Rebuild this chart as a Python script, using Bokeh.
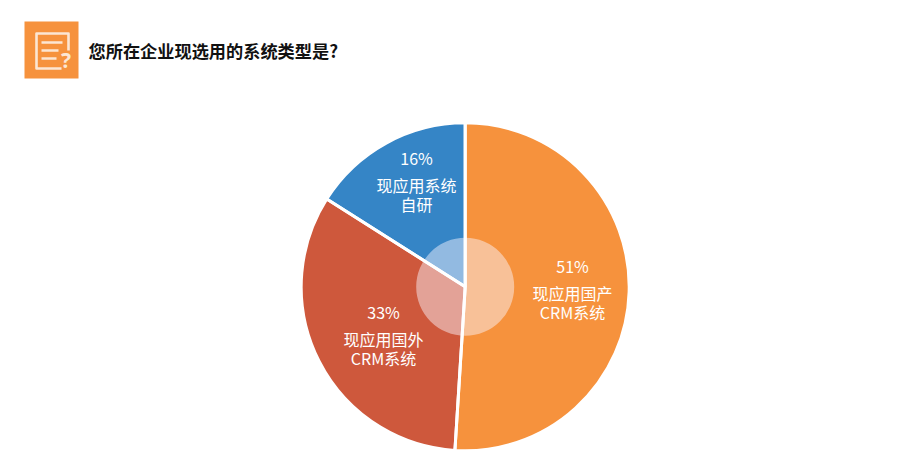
import math
from bokeh.plotting import figure
from bokeh.embed import file_html
from bokeh.resources import INLINE
from bokeh.core.properties import value

title = "您所在企业现选用的系统类型是?"
shares = [51, 33, 16]
colors = ["#F6923D", "#CE583C", "#3585C6"]
pct_labels = ["51%", "33%", "16%"]
name_lines = [["现应用国产", "CRM系统"], ["现应用国外", "CRM系统"], ["现应用系统", "自研"]]

W, H = 889, 460
p = figure(width=W, height=H, output_backend="svg", toolbar_location=None,
           x_range=(0, W), y_range=(476 - H, 476), min_border=0)
p.axis.visible = False
p.grid.visible = False
p.outline_line_color = None
Y = lambda py: 476 - py
FONT = value("Noto Sans CJK SC")

# icon
ICON_INK = "#FCE6D3"
p.quad(left=[24], right=[78], top=[Y(21)], bottom=[Y(78)], fill_color="#F6923D", line_color=None)
p.multi_line(xs=[[61, 36, 36, 68, 68]], ys=[[Y(68), Y(68), Y(33), Y(33), Y(50)]],
             line_color=ICON_INK, line_width=2.6, line_join="round")
p.multi_line(xs=[[41, 62], [41, 58], [41, 56]], ys=[[Y(42), Y(42)], [Y(50), Y(50)], [Y(58), Y(58)]],
             line_color=ICON_INK, line_width=2.6)
p.text(x=[65.5], y=[Y(59)], text=["?"], text_color=ICON_INK, text_font=value("Noto Sans"), text_font_style="bold",
       text_font_size="21px", text_align="center", text_baseline="middle")

# title
p.text(x=[88], y=[Y(49.5)], text=[title], text_color="#111111", text_font=FONT, text_font_style="bold",
       text_font_size="17.2px", text_align="left", text_baseline="middle")

# pie
cx, cy, r = 464.7, Y(286.3), 164
total = sum(shares)
ang = math.pi / 2
starts, ends = [], []
for s in shares:
    starts.append(ang - 2 * math.pi * s / total)
    ends.append(ang)
    ang -= 2 * math.pi * s / total
p.wedge(x=[cx] * 3, y=[cy] * 3, radius=r, start_angle=starts, end_angle=ends,
        fill_color=colors, line_color=None)
p.circle(x=[cx], y=[cy], radius=49, fill_color="#FBF6FF", fill_alpha=0.47, line_color=None)
p.wedge(x=[cx] * 3, y=[cy] * 3, radius=r, start_angle=starts, end_angle=ends,
        fill_color=None, line_color="white", line_width=3)

# labels
centres = [(572, 265), (383, 311), (416, 157)]
for (lx, ly), pct, lines in zip(centres, pct_labels, name_lines):
    p.text(x=[lx], y=[Y(ly)], text=[pct], text_color="white", text_font=FONT, text_font_size="16px",
           text_align="center", text_baseline="middle")
    for i, line in enumerate(lines):
        p.text(x=[lx], y=[Y(ly + 27 + i * 19.5)], text=[line], text_color="white", text_font=FONT,
               text_font_size="16px", text_align="center", text_baseline="middle")

open("out.html", "w").write(file_html(p, INLINE))
